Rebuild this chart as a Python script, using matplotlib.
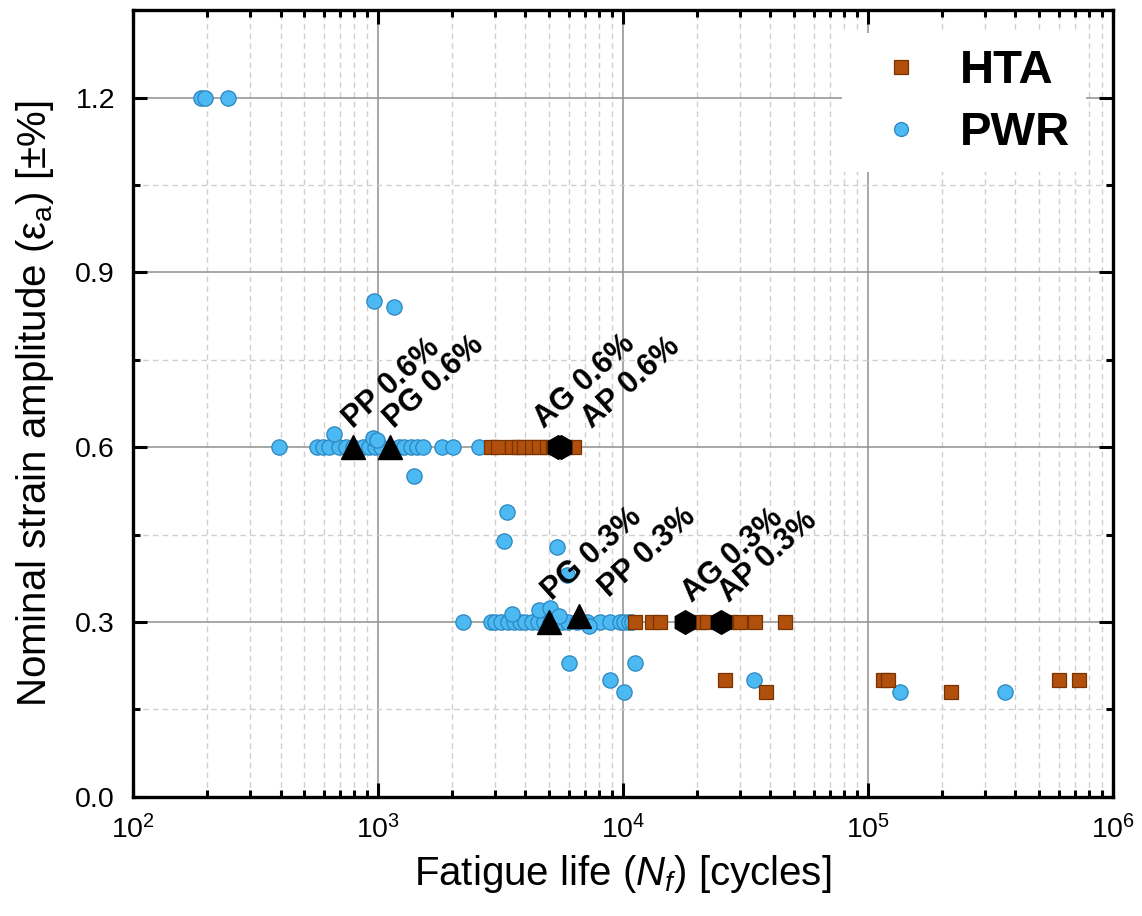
import matplotlib
matplotlib.use("Agg")
import matplotlib.pyplot as plt
from matplotlib.ticker import LogLocator, MultipleLocator, NullFormatter
from matplotlib.lines import Line2D

plt.rcParams['font.family'] = ['Liberation Sans', 'DejaVu Sans']
plt.rcParams['mathtext.fontset'] = 'custom'
plt.rcParams['mathtext.rm'] = 'Liberation Sans'
plt.rcParams['mathtext.it'] = 'Liberation Sans:italic'
plt.rcParams['mathtext.bf'] = 'Liberation Sans:bold'

# ---------------- data ----------------
pwr_N = [190, 197, 245,
         963, 1165,
         393, 562, 595, 630, 692, 739, 790, 869, 919, 972, 1029, 1219, 1278, 1365,
         1445, 1528, 1828, 2028, 2592, 661, 955, 991, 1406,
         2228, 2904, 3017, 3190, 3378, 3575, 3784, 4000, 4236, 4486, 4742, 5022,
         5261, 5623, 5955, 6475, 7117, 8050, 8845, 9720, 10090, 10590, 10890,
         3540, 4525, 5022, 5468, 7260,
         3350, 3282, 5370, 5890, 6010, 11190, 8850, 10090, 34130, 135200, 364000]
pwr_eps = [1.2, 1.2, 1.2,
           0.85, 0.84,
           0.6, 0.6, 0.6, 0.6, 0.6, 0.6, 0.6, 0.6, 0.6, 0.6, 0.6, 0.6, 0.6, 0.6,
           0.6, 0.6, 0.6, 0.6, 0.6, 0.623, 0.615, 0.612, 0.55,
           0.3, 0.3, 0.3, 0.3, 0.3, 0.3, 0.3, 0.3, 0.3, 0.3, 0.3, 0.3,
           0.3, 0.3, 0.3, 0.3, 0.3, 0.3, 0.3, 0.3, 0.3, 0.3, 0.3,
           0.314, 0.32, 0.324, 0.31, 0.293,
           0.489, 0.439, 0.429, 0.38, 0.23, 0.23, 0.2, 0.18, 0.2, 0.18, 0.18]

hta_N = [2904, 3103, 3508, 3748, 3963, 4236, 4527, 4882, 5167, 5468, 5840, 6295,
         11190, 13140, 14180, 20480, 22080, 27450, 30180, 34450, 45710,
         26180, 38190, 115000, 120800, 218900, 601000, 726000]
hta_eps = [0.6] * 12 + [0.3] * 9 + [0.2, 0.18, 0.2, 0.2, 0.18, 0.2, 0.2]

tri_N = [790, 1119, 4980, 6610]
tri_eps = [0.6, 0.6, 0.3, 0.31]
hex_N = [5450, 5600, 17950, 25230]
hex_eps = [0.6, 0.6, 0.3, 0.3]

label_text = ["PP 0.6%", "PG 0.6%", "AG 0.6%", "AP 0.6%",
              "PG 0.3%", "PP 0.3%", "AG 0.3%", "AP 0.3%"]
label_N = [790, 1163, 4740, 7460, 5120, 8770, 19190, 27170]
label_eps = [0.632, 0.632, 0.632, 0.632, 0.336, 0.341, 0.332, 0.332]

x_ticks = [1e2, 1e3, 1e4, 1e5, 1e6]
y_ticks = [0.0, 0.3, 0.6, 0.9, 1.2]

# ---------------- figure ----------------
fig = plt.figure(figsize=(11.42, 9.16), dpi=100)
ax = fig.add_axes([0.1165, 0.130, 0.858, 0.859])

blue = '#4DB9F2'
blue_edge = '#2A86C0'
brown = '#B0500C'
brown_edge = '#7A3404'

ax.plot(pwr_N, pwr_eps, 'o', ls='none', ms=11, mfc=blue, mec=blue_edge, mew=0.9, zorder=3)
ax.plot(hta_N, hta_eps, 's', ls='none', ms=9.5, mfc=brown, mec=brown_edge, mew=0.9, zorder=4)
ax.plot(tri_N, tri_eps, '^', ls='none', ms=17, mfc='black', mec='black', zorder=5)
ax.plot(hex_N, hex_eps, 'h', ls='none', ms=17, mfc='black', mec='black', zorder=5)

for t, xn, ye in zip(label_text, label_N, label_eps):
    ax.text(xn, ye, t, rotation=42, rotation_mode='anchor', ha='left', va='baseline',
            fontsize=22, fontweight='bold', zorder=6)

ax.set_xscale('log')
ax.set_xlim(1e2, 1e6)
ax.set_ylim(0, 1.35)
ax.set_xticks(x_ticks)
ax.xaxis.set_minor_locator(LogLocator(base=10, subs=range(2, 10), numticks=20))
ax.xaxis.set_minor_formatter(NullFormatter())
ax.set_yticks(y_ticks)
ax.set_yticklabels([f"{v:.1f}" for v in y_ticks])
ax.yaxis.set_minor_locator(MultipleLocator(0.15))

ax.grid(True, which='major', color='#8f8f8f', lw=1.1, ls='-', zorder=0)
ax.grid(True, which='minor', color='#cfcfcf', lw=1.0, ls=(0, (4, 3)), zorder=0)
ax.set_axisbelow(True)

ax.tick_params(which='both', direction='in', top=True, right=True, width=2.2)
ax.tick_params(which='major', length=10, labelsize=20.5, pad=13)
ax.tick_params(which='minor', length=5)
for s in ax.spines.values():
    s.set_linewidth(2.4)

ax.set_xlabel(r'Fatigue life ($N_f$) [cycles]', fontsize=29, labelpad=6)
ax.set_ylabel(r'Nominal strain amplitude (ε$_{\mathrm{a}}$) [±%]', fontsize=29, labelpad=14)

handles = [Line2D([], [], marker='s', ls='none', ms=10, mfc=brown, mec=brown_edge, mew=0.9),
           Line2D([], [], marker='o', ls='none', ms=10, mfc=blue, mec=blue_edge, mew=0.9)]
leg = ax.legend(handles, ['HTA', 'PWR'], loc='upper right', bbox_to_anchor=(0.973, 0.971),
                borderaxespad=0, prop={'weight': 'bold', 'size': 34}, frameon=True,
                fancybox=False, edgecolor='none', facecolor='white', framealpha=1,
                borderpad=0.35, handlelength=1.8, handletextpad=0.35, labelspacing=0.38)
leg.set_zorder(10)

fig.savefig('out.png', dpi=100)
